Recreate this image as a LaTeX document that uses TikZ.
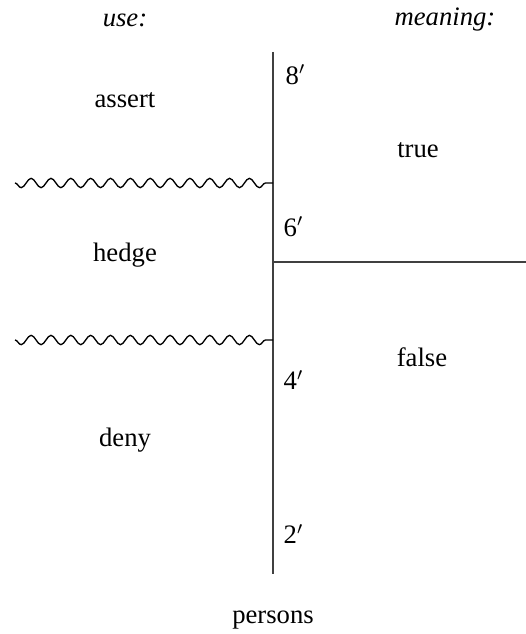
\documentclass[tikz,border=0pt,12pt]{standalone}
\usepackage{fontspec}
\setmainfont{Liberation Serif}
\usetikzlibrary{decorations.pathmorphing}
\tikzset{
  lbl/.style={font=\normalsize, inner sep=1pt},
  hd/.style={lbl, font=\itshape},
  num/.style={lbl, anchor=west},
  axis/.style={draw=black!75, semithick},
  wave/.style={draw=black, semithick, decorate, decoration={snake, mirror, amplitude=2.1pt, segment length=8.93pt}},
}
\begin{document}
\begin{tikzpicture}[x=0.45pt, y=-0.45pt]
    \useasboundingbox (0,0) rectangle (526,634);
    \node[hd] (use) at (125,20) {use:};
    \node[hd] (mean) at (445,20) {meaning:};
    \node[lbl] (assert) at (125,100) {assert};
    \node[lbl] (hedge) at (125,255) {hedge};
    \node[lbl] (deny) at (125,440) {deny};
    \node[lbl] (true) at (418,150) {true};
    \node[lbl] (false) at (422,357) {false};
    \node[num] (n8) at (283,75) {8$'$};
    \node[num] (n6) at (281,227) {6$'$};
    \node[num] (n4) at (281,380) {4$'$};
    \node[num] (n2) at (281,534) {2$'$};
    \node[lbl] (pers) at (273,620) {persons};
    \coordinate (top) at (273,52);
    \coordinate (bot) at (273,574);
    \coordinate (mid) at (273,262);
    \coordinate (rgt) at (526,262);
    \coordinate (wa) at (15,183);
    \coordinate (wb) at (15,340);
    \draw[axis] (top) -- (bot);
    \draw[axis] (mid) -- (rgt);
    \draw[wave] (wa) -- (wa -| top);
    \draw[wave] (wb) -- (wb -| top);
  \end{tikzpicture}
\end{document}
